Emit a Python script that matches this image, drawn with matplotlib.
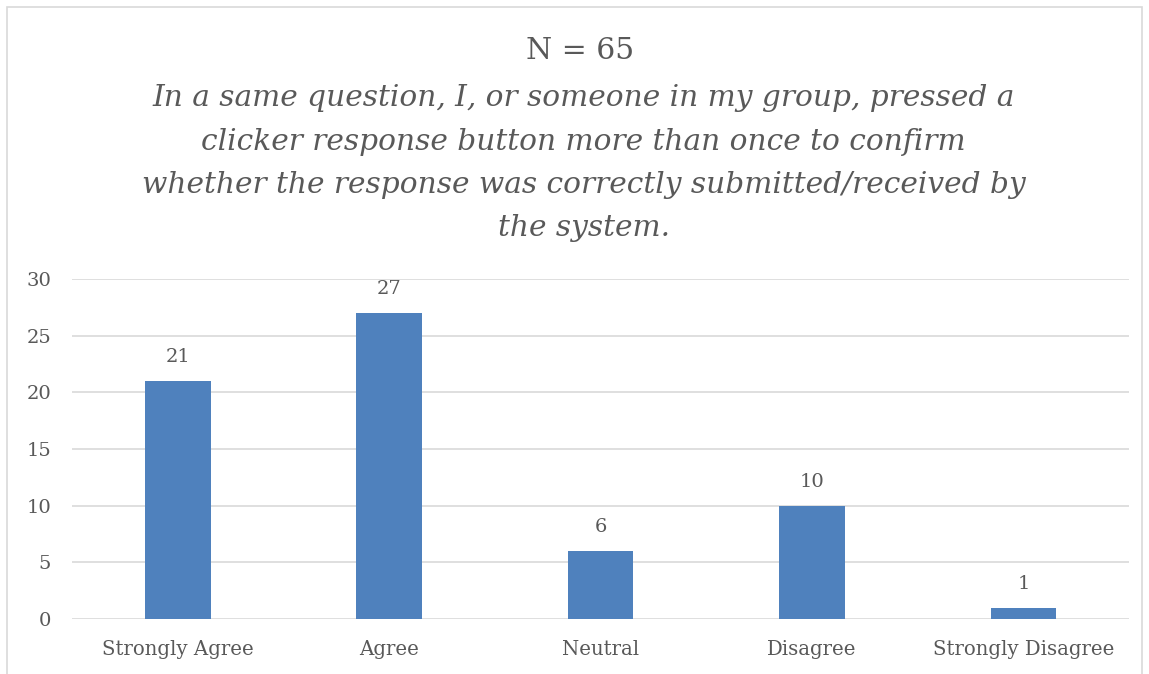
import numpy as np
import matplotlib.pyplot as plt
from matplotlib.patches import Rectangle

categories = ['Strongly Agree', 'Agree', 'Neutral', 'Disagree', 'Strongly Disagree']
counts = [21, 27, 6, 10, 1]
yticks = [0, 5, 10, 15, 20, 25, 30]

title_n = 'N = 65'
question = ('In a same question, I, or someone in my group, pressed a\n'
            'clicker response button more than once to confirm\n'
            'whether the response was correctly submitted/received by\n'
            'the system.')

TEXT = '#595959'
GRID = '#d9d9d9'
BAR = '#4f81bd'
FONT = 'DejaVu Serif'

plt.rcParams['font.family'] = FONT

fig = plt.figure(figsize=(11.49, 6.74), dpi=100)
fig.patches.append(Rectangle((0.006, -0.01), 0.988, 1.0, transform=fig.transFigure,
                             fill=False, edgecolor='#d9d9d9', linewidth=1.2))

ax = fig.add_axes([0.0627, 0.0816, 0.92, 0.5045])
x = np.arange(len(categories))
bars = ax.bar(x, counts, width=0.31, color=BAR, zorder=3)
for xi, v in zip(x, counts):
    ax.text(xi, v + 1.3, str(v), ha='center', va='bottom', fontsize=14, color=TEXT)

ax.set_xlim(-0.5, len(categories) - 0.5)
ax.set_ylim(0, 30)
ax.set_yticks(yticks)
ax.set_xticks(x)
ax.set_xticklabels(categories, fontsize=14.2, color=TEXT)
ax.tick_params(axis='y', labelsize=14, labelcolor=TEXT, length=0, pad=15)
ax.tick_params(axis='x', length=0, pad=15)
ax.grid(axis='y', color=GRID, linewidth=1.2, zorder=0)
for s in ax.spines.values():
    s.set_visible(False)

fig.text(0.505, 0.925, title_n, ha='center', va='center', fontsize=21.5, color=TEXT)
fig.text(0.508, 0.875, question, ha='center', va='top', fontsize=21.3, color=TEXT,
         style='italic', linespacing=1.7)

plt.savefig('out.png', dpi=100)
